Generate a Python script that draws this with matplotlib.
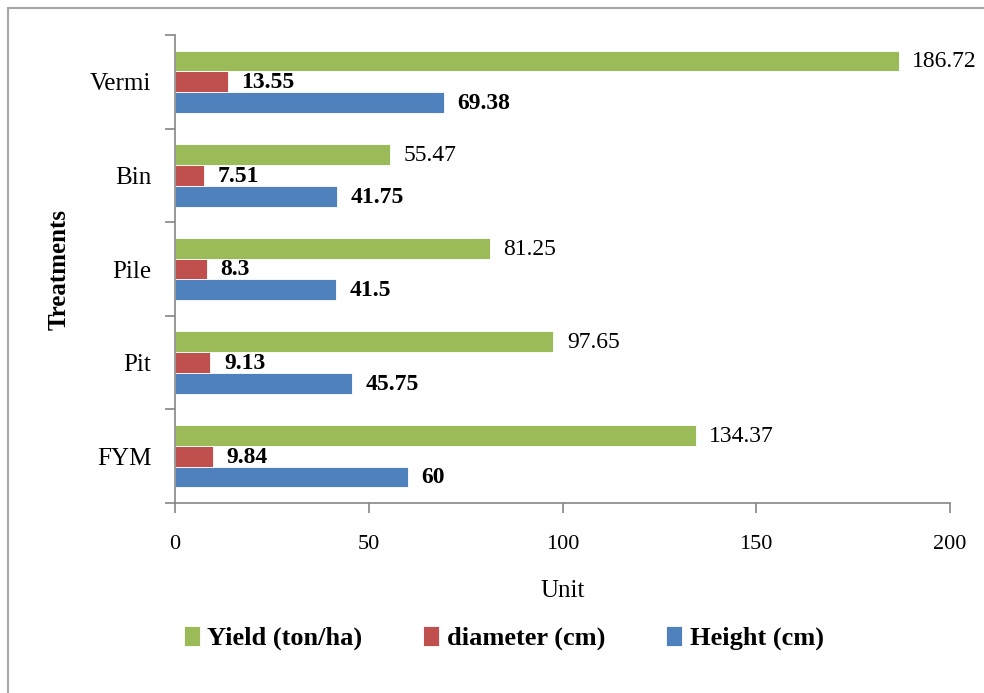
import matplotlib.pyplot as plt
import numpy as np
from matplotlib.patches import Rectangle

plt.rcParams["font.family"] = ["Liberation Serif", "DejaVu Serif"]

treatments = ["FYM", "Pit", "Pile", "Bin", "Vermi"]
height_cm = [60, 45.75, 41.5, 41.75, 69.38]
diameter_cm = [9.84, 9.13, 8.3, 7.51, 13.55]
yield_tha = [134.37, 97.65, 81.25, 55.47, 186.72]

series = [
    ("Height (cm)", height_cm, "#4f81bd", "bold"),
    ("diameter (cm)", diameter_cm, "#c0504d", "bold"),
    ("Yield (ton/ha)", yield_tha, "#9bbb59", "normal"),
]

fig = plt.figure(figsize=(9.84, 6.93), dpi=100)
# outer chart border (only left and top visible in the crop)
fig.add_artist(Rectangle((8 / 984, -0.1), 1.2, 1.1 - 8 / 693, transform=fig.transFigure,
                         fill=False, edgecolor="#a6a6a6", lw=1.5))

ax = fig.add_axes([175 / 984, 1 - 503 / 693, (950 - 175) / 984, (503 - 35) / 693])

y = np.arange(len(treatments))
h = 1 / 4.5
for i, (name, vals, color, weight) in enumerate(series):
    pos = y + (i - 1) * h
    ax.barh(pos, vals, height=h, color=color, edgecolor="white", lw=0.6, label=name)
    for p, v in zip(pos, vals):
        ax.text(v + 3.5, p - 0.01, f"{v:g}", va="center", ha="left", fontsize=17,
                fontweight=weight, color="black")

ax.set_xlim(0, 200)
ax.set_ylim(-0.5, len(treatments) - 0.5)
ax.set_xticks([0, 50, 100, 150, 200])
ax.set_xticklabels(["0", "50", "100", "150", "200"], fontsize=16)
ax.set_yticks(y)
ax.set_yticklabels(treatments, fontsize=18)
ax.set_yticks(np.arange(-0.5, len(treatments)), minor=True)
ax.tick_params(axis="y", which="major", length=0, pad=17)
ax.tick_params(axis="y", which="minor", length=7, color="#868686", width=1.2)
ax.tick_params(axis="x", length=7, color="#868686", width=1.2, pad=16)

for side in ["top", "right"]:
    ax.spines[side].set_visible(False)
for side in ["left", "bottom"]:
    ax.spines[side].set_color("#868686")
    ax.spines[side].set_linewidth(1.2)

ax.set_xlabel("Unit", fontsize=18, labelpad=19)
ax.set_ylabel("Treatments", fontsize=18, fontweight="bold", labelpad=14)

handles, labels = ax.get_legend_handles_labels()
fig.legend(handles[::-1], labels[::-1], loc="center", bbox_to_anchor=(0.512, 1 - 638 / 693),
           ncol=3, frameon=False, prop={"size": 19, "weight": "bold"},
           handlelength=0.6, handleheight=0.8, handletextpad=0.3, columnspacing=2.3)

fig.savefig("out.png", dpi=100)
